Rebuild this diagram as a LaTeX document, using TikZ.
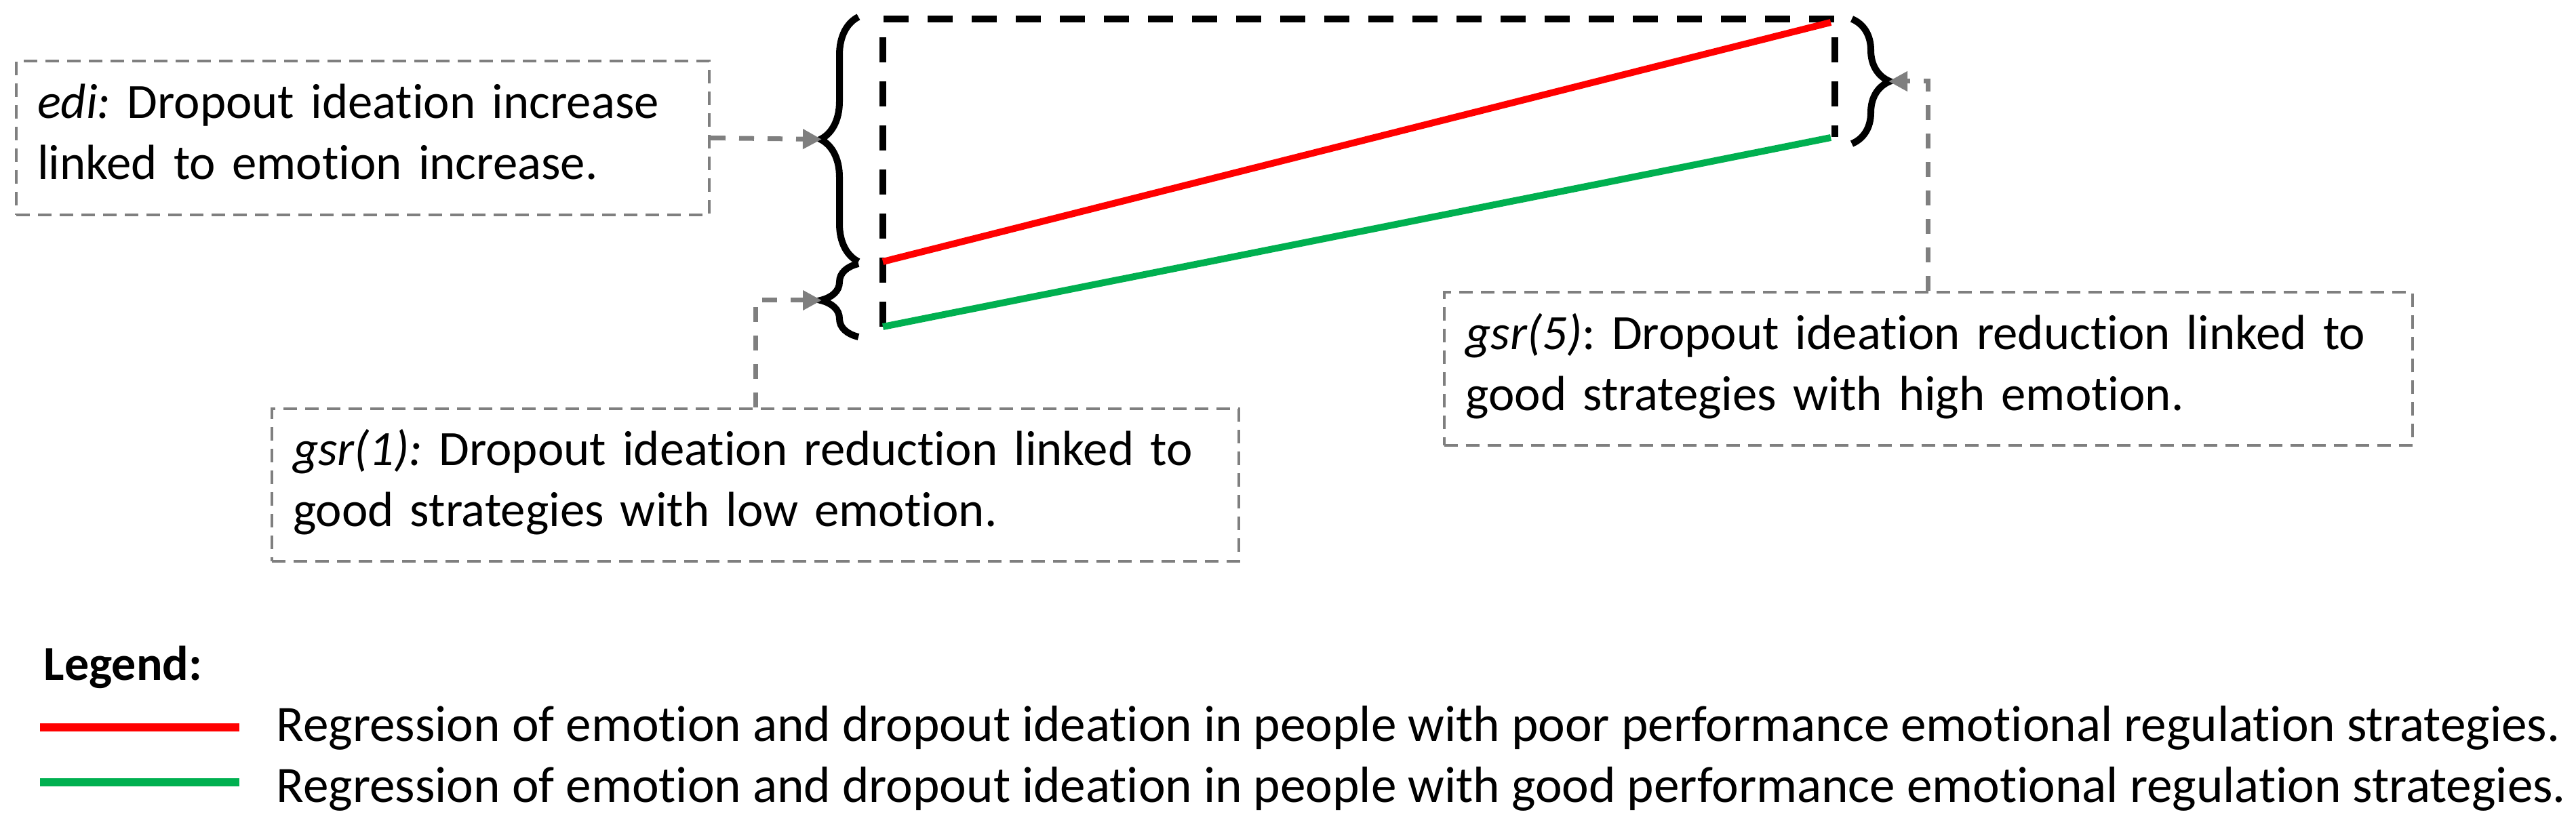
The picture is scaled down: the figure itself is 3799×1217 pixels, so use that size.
\documentclass[tikz,border=0pt]{standalone}
\usepackage{fontspec}
\setmainfont{Carlito}[Ligatures=NoCommon]
\usetikzlibrary{arrows.meta,decorations.pathreplacing,calc}
\definecolor{cgray}{RGB}{127,127,127}
\definecolor{cred}{RGB}{255,0,0}
\definecolor{cgreen}{RGB}{0,176,80}
\newcommand{\toprl}{\rule{0pt}{15pt}}
\newcommand{\botrl}{\rule[-7pt]{0pt}{0pt}}
\begin{document}
\frenchspacing
\begin{tikzpicture}[x=0.25pt,y=-0.25pt,
  box/.style={draw=cgray,line width=1pt,dash pattern=on 5pt off 3pt,inner sep=0pt,align=left,font=\fontsize{18.2}{22.5}\selectfont},
  conn/.style={draw=cgray,line width=1.75pt,dash pattern=on 5.5pt off 5pt,-{Triangle[length=7pt,width=7pt]}},
  brc/.style={decorate,decoration={brace,amplitude=14pt},line width=2.5pt},
  frame/.style={line width=2.5pt,dash pattern=on 9.25pt off 7pt},
  regline/.style={line width=2.5pt},
  legline/.style={line width=3pt},
  legtext/.style={anchor=base west,inner sep=0pt,font=\fontsize{18.8}{22.5}\selectfont}
]
\useasboundingbox (0,0) rectangle (3799,1217);

% frame and regression lines
\coordinate (fl) at (1302,482);
\coordinate (ftl) at (1302,28);
\coordinate (ftr) at (2706,28);
\coordinate (fr) at (2706,202);
\draw[frame] (fl) -- (ftl) -- (ftr) -- (fr);
\coordinate (r0) at (1302,386);
\coordinate (r1) at (2700,33);
\coordinate (g0) at (1302,482);
\coordinate (g1) at (2700,203);
\draw[regline,cred] (r0) -- (r1);
\draw[regline,cgreen] (g0) -- (g1);

% braces
\draw[brc] (1266,386) -- (1266,25);
\coordinate (bbtip) at (1212,205.5);
\draw[brc] (1266,497) -- (1266,389);
\coordinate (sbtip) at (1212,443);
\draw[brc] (2731,28) -- (2731,212);
\coordinate (rbtip) at (2785,120);

% boxes
\node[box,minimum width=255.5pt,minimum height=56.75pt,text width=240pt] (edi) at (535,203.5)
  {\toprl{\itshape edi:} Dropout ideation increase\\linked to emotion increase.\botrl};
\node[box,minimum width=356.5pt,minimum height=56.25pt,text width=341pt] (gsr1) at (1114,715.5)
  {\toprl{\itshape gsr(1):} Dropout ideation reduction linked to\\good strategies with low emotion.\botrl};
\node[box,minimum width=357pt,minimum height=56.5pt,text width=341pt] (gsr5) at (2843.5,544.5)
  {\toprl{\itshape gsr(5)}: Dropout ideation reduction linked to\\good strategies with high emotion.\botrl};

% connectors
\draw[conn] (edi.east) -- (bbtip);
\draw[conn] (gsr1.north) |- (sbtip);
\draw[conn] (gsr5.north) |- (rbtip);

% legend
\node[legtext,font=\fontsize{18}{22.5}\selectfont\bfseries] (leg) at (64,1003) {Legend:};
\coordinate (lr0) at (59,1073);
\coordinate (lr1) at (353,1073);
\coordinate (lg0) at (59,1154);
\coordinate (lg1) at (353,1154);
\draw[legline,cred] (lr0) -- (lr1);
\draw[legline,cgreen] (lg0) -- (lg1);
\node[legtext] (t1) at (407,1093) {Regression of emotion and dropout ideation in people with poor performance emotional regulation strategies.};
\node[legtext] (t2) at (407,1183) {Regression of emotion and dropout ideation in people with good performance emotional regulation strategies.};
\end{tikzpicture}
\end{document}
